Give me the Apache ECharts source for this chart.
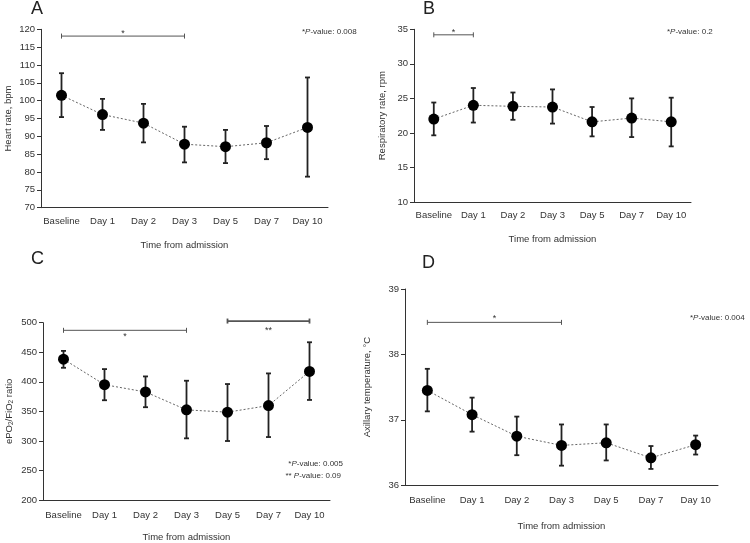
<!DOCTYPE html>
<html>
<head>
<meta charset="utf-8">
<script src="https://cdn.jsdelivr.net/npm/echarts@6/dist/echarts.min.js"></script>
<style>html,body{margin:0;padding:0;background:#fff}#c{width:750px;height:543px}</style>
</head>
<body>
<div id="c"></div>
<script>
const categories = ['Baseline', 'Day 1', 'Day 2', 'Day 3', 'Day 5', 'Day 7', 'Day 10'];

// A: Heart rate
const hrMean = [101.5, 96.1, 93.7, 87.8, 87.1, 88.2, 92.5];
const hrLow  = [95.4, 91.8, 88.3, 82.7, 82.5, 83.6, 78.7];
const hrHigh = [107.7, 100.5, 99.1, 92.7, 91.8, 92.9, 106.5];
const hrTicks = [70, 120, 5];
const hrBrackets = [[0, 3, 118.1, '*']];

// B: Respiratory rate
const rrMean = [22.0, 24.0, 23.85, 23.75, 21.6, 22.15, 21.6];
const rrLow  = [19.65, 21.5, 21.9, 21.35, 19.5, 19.4, 18.05];
const rrHigh = [24.4, 26.5, 25.85, 26.3, 23.75, 25.0, 25.1];
const rrTicks = [10, 35, 5];
const rrBrackets = [[0, 1, 34.2, '*']];

// C: ePO2/FiO2 ratio
const pfMean = [438.3, 395.1, 382.8, 352.5, 348.6, 359.8, 417.6];
const pfLow  = [423.7, 368.8, 357.0, 304.3, 299.8, 306.5, 369.3];
const pfHigh = [452.3, 421.5, 409.1, 401.8, 396.2, 414.2, 466.9];
const pfTicks = [200, 500, 50];
const pfBrackets = [[0, 3, 487.1, '*'], [4, 6, 502.8, '**']];

// D: Axillary temperature
const tMean = [37.45, 37.08, 36.75, 36.61, 36.65, 36.42, 36.62];
const tLow  = [37.13, 36.82, 36.46, 36.30, 36.38, 36.25, 36.47];
const tHigh = [37.78, 37.34, 37.05, 36.93, 36.93, 36.60, 36.76];
const tTicks = [36, 39, 1];
const tBrackets = [[0, 3, 38.49, '*']];

const FONT = '"Liberation Sans", Arial, sans-serif';
const TXT = '#333';

const panels = [
  {mean: hrMean, low: hrLow, high: hrHigh, ticks: hrTicks, br: hrBrackets,
   grid: {left: 41, top: 29.3, width: 287, height: 178.4},
   yName: 'Heart rate, bpm', yGap: 28, xGap: 33, lblMargin: 9,
   starOff: [-3], brWidth: [1]},
  {mean: rrMean, low: rrLow, high: rrHigh, ticks: rrTicks, br: rrBrackets,
   grid: {left: 414, top: 29.3, width: 277, height: 172.7},
   yName: 'Respiratory rate, rpm', yGap: 27, xGap: 32, lblMargin: 8,
   starOff: [-2], brWidth: [1]},
  {mean: pfMean, low: pfLow, high: pfHigh, ticks: pfTicks, br: pfBrackets,
   grid: {left: 43, top: 322.7, width: 287, height: 178.3},
   yName: '{a|ePO}{s|2}{a|/FiO}{s|2}{a| ratio}', yGap: 28, xGap: 32, lblMargin: 10,
   starOff: [6, 9], brWidth: [1, 1.8]},
  {mean: tMean, low: tLow, high: tHigh, ticks: tTicks, br: tBrackets,
   grid: {left: 405, top: 289, width: 313, height: 196.3},
   yName: 'Axillary temperature, °C', yGap: 33, xGap: 36, lblMargin: 10,
   starOff: [-4], brWidth: [1]}
];

const grids = [], xAxes = [], yAxes = [], series = [];
panels.forEach((p, i) => {
  grids.push(p.grid);
  xAxes.push({
    type: 'category', gridIndex: i, data: categories, boundaryGap: true,
    name: 'Time from admission', nameLocation: 'middle', nameGap: p.xGap,
    nameTextStyle: {fontFamily: FONT, fontSize: 9.5, color: TXT},
    axisLine: {lineStyle: {color: '#333', width: 1}},
    axisTick: {alignWithLabel: true, length: 4, lineStyle: {color: '#333'}},
    axisLabel: {fontFamily: FONT, fontSize: 9.5, color: TXT, margin: p.lblMargin, interval: 0}
  });
  yAxes.push({
    type: 'value', gridIndex: i, min: p.ticks[0], max: p.ticks[1], interval: p.ticks[2],
    name: p.yName, nameLocation: 'middle', nameGap: p.yGap, nameRotate: 90,
    nameTextStyle: {fontFamily: FONT, fontSize: 9.5, color: TXT,
      rich: {a: {fontFamily: FONT, fontSize: 9.5, color: TXT},
             s: {fontFamily: FONT, fontSize: 6.5, color: TXT, verticalAlign: 'bottom', padding: [4, 0, 0, 0]}}},
    axisLine: {show: true, lineStyle: {color: '#333', width: 1}},
    axisTick: {show: true, length: 4, lineStyle: {color: '#333'}},
    axisLabel: {fontFamily: FONT, fontSize: 9.5, color: TXT, margin: 6},
    splitLine: {show: false}
  });
  // mean line with markers
  series.push({
    type: 'line', xAxisIndex: i, yAxisIndex: i, data: p.mean, z: 4,
    symbol: 'circle', symbolSize: 11,
    itemStyle: {color: '#000'},
    lineStyle: {color: '#666', width: 1, type: [2, 2]}
  });
  // error bars
  series.push({
    type: 'custom', xAxisIndex: i, yAxisIndex: i, z: 3,
    data: categories.map((c, k) => [k, p.low[k], p.high[k]]),
    renderItem: (params, api) => {
      const lo = api.coord([api.value(0), api.value(1)]);
      const hi = api.coord([api.value(0), api.value(2)]);
      const cw = 2.5;
      const st = {stroke: '#222', lineWidth: 1.8};
      return {type: 'group', children: [
        {type: 'line', shape: {x1: hi[0], y1: hi[1], x2: lo[0], y2: lo[1]}, style: st},
        {type: 'line', shape: {x1: hi[0] - cw, y1: hi[1], x2: hi[0] + cw, y2: hi[1]}, style: st},
        {type: 'line', shape: {x1: lo[0] - cw, y1: lo[1], x2: lo[0] + cw, y2: lo[1]}, style: st}
      ]};
    }
  });
  // significance brackets
  series.push({
    type: 'custom', xAxisIndex: i, yAxisIndex: i, z: 2, clip: false, silent: true,
    data: p.br,
    renderItem: (params, api) => {
      const a = api.coord([api.value(0), api.value(2)]);
      const b = api.coord([api.value(1), api.value(2)]);
      const idx = params.dataIndex;
      const w = p.brWidth[idx];
      const st = {stroke: '#555', lineWidth: w};
      const ch = 2.5;
      return {type: 'group', children: [
        {type: 'line', shape: {x1: a[0], y1: a[1], x2: b[0], y2: b[1]}, style: st},
        {type: 'line', shape: {x1: a[0], y1: a[1] - ch, x2: a[0], y2: a[1] + ch}, style: st},
        {type: 'line', shape: {x1: b[0], y1: b[1] - ch, x2: b[0], y2: b[1] + ch}, style: st},
        {type: 'text', x: (a[0] + b[0]) / 2, y: a[1] + p.starOff[idx],
         style: {text: p.br[idx][3], fill: '#333', font: '9px ' + FONT, textAlign: 'center', textVerticalAlign: 'middle'}}
      ]};
    }
  });
});

const letters = [['A', 31, 10], ['B', 423, 10], ['C', 31, 260], ['D', 422, 264]];
const pvals = [
  {x: 302, y: 32, align: 'left', t: '{n|*}{i|P}{n|-value: 0.008}'},
  {x: 667, y: 32, align: 'left', t: '{n|*}{i|P}{n|-value: 0.2}'},
  {x: 343, y: 464, align: 'right', t: '{n|*}{i|P}{n|-value: 0.005}'},
  {x: 341, y: 476, align: 'right', t: '{n|** }{i|P}{n|-value: 0.09}'},
  {x: 690, y: 318, align: 'left', t: '{n|*}{i|P}{n|-value: 0.004}'}
];

const graphic = [];
letters.forEach(l => graphic.push({
  type: 'text', left: l[1], top: l[2] - 10,
  style: {text: l[0], font: '18px ' + FONT, fill: '#222'}
}));
pvals.forEach(pv => graphic.push({
  type: 'text', x: pv.x, y: pv.y,
  style: {text: pv.t, textAlign: pv.align, textVerticalAlign: 'middle',
    rich: {n: {fontFamily: FONT, fontSize: 8, fill: '#333', color: '#333'},
           i: {fontFamily: FONT, fontSize: 8, fontStyle: 'italic', fill: '#333', color: '#333'}}}
}));

const chart = echarts.init(document.getElementById('c'));
chart.setOption({
  animation: false,
  backgroundColor: '#fff',
  grid: grids, xAxis: xAxes, yAxis: yAxes, series: series, graphic: graphic
});
</script>
</body>
</html>
